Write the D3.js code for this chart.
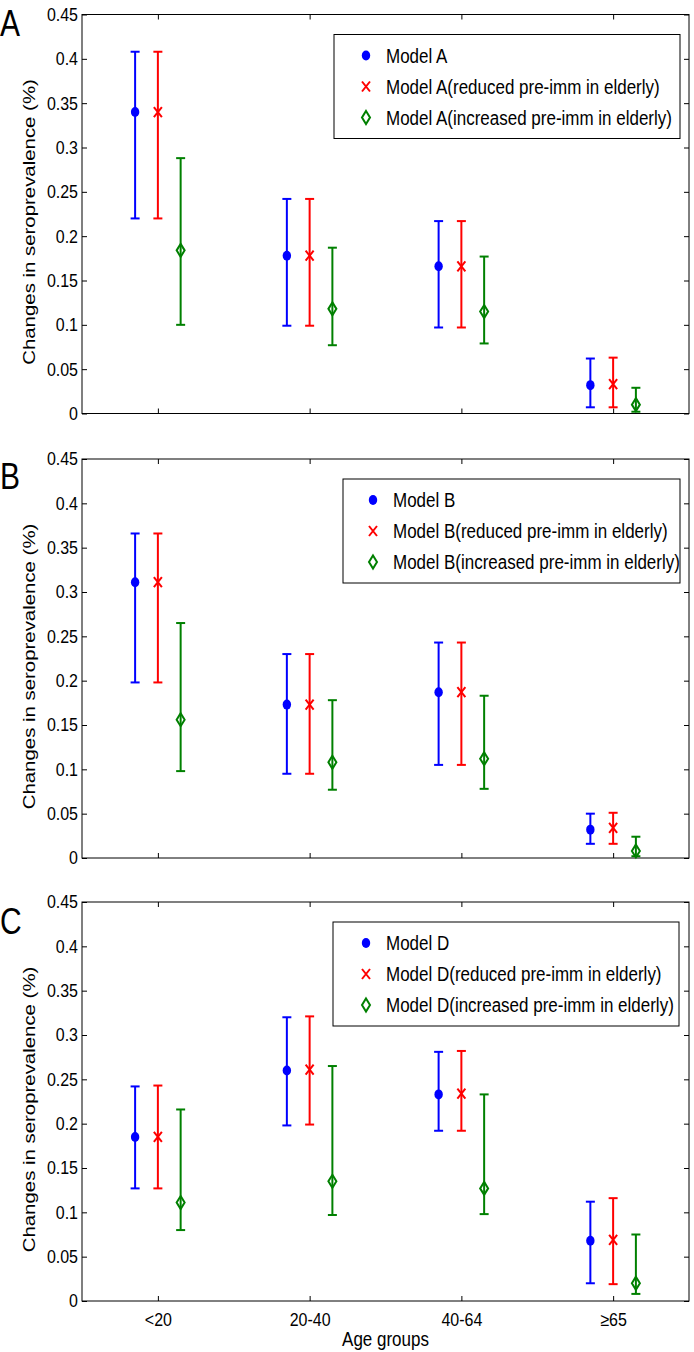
<!DOCTYPE html>
<html>
<head>
<meta charset="utf-8">
<script src="https://cdn.jsdelivr.net/npm/d3@7"></script>
<style>
  body { margin: 0; background: #fff; }
  svg text { font-family: "Liberation Sans", Arial, sans-serif; fill: #000; }
</style>
</head>
<body>
<div id="chart"></div>
<script>
// categories and labels
const groups = ['<20', '20-40', '40-64', '\u226565'];
const panelLetters = ['A', 'B', 'C'];
const modelNames = ['Model A', 'Model B', 'Model D'];
const seriesSuffix = ['', '(reduced pre-imm in elderly)', '(increased pre-imm in elderly)'];
const yTicks = [0, 0.05, 0.1, 0.15, 0.2, 0.25, 0.3, 0.35, 0.4, 0.45];

// panel A: rows = base, reduced, increased
const aMid  = [[0.340, 0.178, 0.166, 0.032], [0.340, 0.178, 0.166, 0.033], [0.184, 0.118, 0.115, 0.010]];
const aLow  = [[0.220, 0.099, 0.097, 0.007], [0.220, 0.099, 0.097, 0.007], [0.100, 0.077, 0.079, 0.002]];
const aHigh = [[0.408, 0.242, 0.217, 0.062], [0.408, 0.242, 0.217, 0.063], [0.288, 0.187, 0.177, 0.029]];

// panel B
const bMid  = [[0.311, 0.173, 0.187, 0.032], [0.311, 0.173, 0.187, 0.034], [0.156, 0.108, 0.112, 0.008]];
const bLow  = [[0.198, 0.095, 0.105, 0.016], [0.198, 0.095, 0.105, 0.016], [0.098, 0.077, 0.078, 0.002]];
const bHigh = [[0.366, 0.230, 0.243, 0.050], [0.366, 0.230, 0.243, 0.051], [0.265, 0.178, 0.183, 0.024]];

// panel C
const cMid  = [[0.185, 0.260, 0.233, 0.068], [0.185, 0.261, 0.234, 0.069], [0.111, 0.135, 0.127, 0.020]];
const cLow  = [[0.127, 0.198, 0.192, 0.020], [0.127, 0.199, 0.192, 0.019], [0.080, 0.097, 0.098, 0.008]];
const cHigh = [[0.242, 0.320, 0.281, 0.112], [0.243, 0.321, 0.282, 0.116], [0.216, 0.265, 0.233, 0.075]];

const panels = [
    { mid: aMid, low: aLow, high: aHigh },
    { mid: bMid, low: bLow, high: bHigh },
    { mid: cMid, low: cLow, high: cHigh }
];

const width = 694, height = 1352;
const left = 82, right = 689;
const panelTops = [14.5, 459, 902], plotH = 399;
const stretch = 1.15; // text in the figure is a bit tall and narrow
const legendBoxes = [
    { x: 334, w: 346, mx: 366, tx: 386 },
    { x: 343, w: 337, mx: 373, tx: 393 },
    { x: 333, w: 346, mx: 366, tx: 386 }
];
const colors = ['#0000ff', '#ff0000', '#008000'];
const offsets = [-0.15, 0, 0.15];

const svg = d3.select('#chart').append('svg')
    .attr('width', width)
    .attr('height', height);

const x = d3.scaleLinear().domain([0.5, 4.5]).range([left, right]);
const fmt = d => String(+d.toFixed(2));

function drawMarker(g, type, cx, cy, color) {
    if (type === 0) {
        g.append('ellipse').attr('cx', cx).attr('cy', cy).attr('rx', 4.2).attr('ry', 5).attr('fill', color);
    } else if (type === 1) {
        const s = 4, t = 5;
        g.append('path')
            .attr('d', `M${cx - s},${cy - t}L${cx + s},${cy + t}M${cx - s},${cy + t}L${cx + s},${cy - t}`)
            .attr('stroke', color).attr('stroke-width', 2).attr('fill', 'none');
    } else {
        const w = 4, h = 6.5;
        g.append('path')
            .attr('d', `M${cx},${cy - h}L${cx + w},${cy}L${cx},${cy + h}L${cx - w},${cy}Z`)
            .attr('stroke', color).attr('stroke-width', 2).attr('fill', 'none');
    }
}

function tallText(g, tx, ty, size, str, anchor, k) {
    return g.append('text')
        .attr('transform', `translate(${tx},${ty}) scale(1,${k || stretch})`)
        .attr('text-anchor', anchor || 'start')
        .attr('font-size', size)
        .text(str);
}

panels.forEach((p, pi) => {
    const top = panelTops[pi], bottom = top + plotH;
    const y = d3.scaleLinear().domain([0, 0.45]).range([bottom, top]);
    const g = svg.append('g');

    // axes with inward ticks
    g.append('g')
        .attr('transform', `translate(${left},0)`)
        .call(d3.axisLeft(y).tickValues(yTicks).tickSizeInner(-5).tickSizeOuter(0).tickPadding(4).tickFormat(fmt))
        .call(a => a.select('.domain').remove())
        .call(a => a.selectAll('text').attr('font-size', 16).attr('transform', `scale(1,${stretch})`)
            .style('font-family', '"Liberation Sans", Arial, sans-serif'));

    g.append('g')
        .attr('transform', `translate(${right},0)`)
        .call(d3.axisRight(y).tickValues(yTicks).tickSizeInner(-5).tickSizeOuter(0).tickFormat(''))
        .call(a => a.select('.domain').remove());

    g.append('g')
        .attr('transform', `translate(0,${bottom})`)
        .call(d3.axisBottom(x).tickValues([1, 2, 3, 4]).tickSizeInner(-5).tickSizeOuter(0).tickPadding(10)
            .tickFormat(pi === 2 ? (d => groups[d - 1]) : ''))
        .call(a => a.select('.domain').remove())
        .call(a => a.selectAll('text').attr('font-size', 16).attr('transform', `scale(1,${stretch})`)
            .style('font-family', '"Liberation Sans", Arial, sans-serif'));

    g.append('g')
        .attr('transform', `translate(0,${top})`)
        .call(d3.axisTop(x).tickValues([1, 2, 3, 4]).tickSizeInner(-5).tickSizeOuter(0).tickFormat(''))
        .call(a => a.select('.domain').remove());

    g.append('rect')
        .attr('x', left).attr('y', top)
        .attr('width', right - left).attr('height', plotH)
        .attr('fill', 'none').attr('stroke', '#000').attr('stroke-width', 1);

    // error bars
    p.mid.forEach((vals, si) => {
        const col = colors[si];
        const sg = g.append('g');
        vals.forEach((v, gi) => {
            const cx = x(gi + 1 + offsets[si]);
            const y0 = y(p.low[si][gi]), y1 = y(p.high[si][gi]);
            sg.append('line').attr('x1', cx).attr('x2', cx).attr('y1', y0).attr('y2', y1)
                .attr('stroke', col).attr('stroke-width', 2);
            [y0, y1].forEach(yy => sg.append('line')
                .attr('x1', cx - 4.5).attr('x2', cx + 4.5).attr('y1', yy).attr('y2', yy)
                .attr('stroke', col).attr('stroke-width', 2));
            drawMarker(sg, si, cx, y(v), col);
        });
    });

    // legend
    const lb = legendBoxes[pi];
    const boxTop = top + 20, boxH = 104;
    const rows = [top + 41, top + 72, top + 103];
    const lg = g.append('g');
    lg.append('rect')
        .attr('x', lb.x).attr('y', boxTop).attr('width', lb.w).attr('height', boxH)
        .attr('fill', '#fff').attr('stroke', '#000').attr('stroke-width', 1);
    seriesSuffix.forEach((suf, si) => {
        drawMarker(lg, si, lb.mx, rows[si], colors[si]);
        tallText(lg, lb.tx, rows[si] + 7, 17, modelNames[pi] + suf);
    });

    // y label
    svg.append('text')
        .attr('transform', `translate(29,${(top + bottom) / 2 + 8}) scale(1,1.2) rotate(-90)`)
        .attr('text-anchor', 'middle')
        .attr('dy', '0.35em')
        .attr('font-size', 17)
        .text('Changes in seroprevalence (%)');

    // panel letter
    tallText(svg, 0, top + [21, 30, 32][pi], 30, panelLetters[pi], 'start', 1.2);
});

tallText(svg, x(2.5), 1346, 17, 'Age groups', 'middle');
</script>
</body>
</html>
